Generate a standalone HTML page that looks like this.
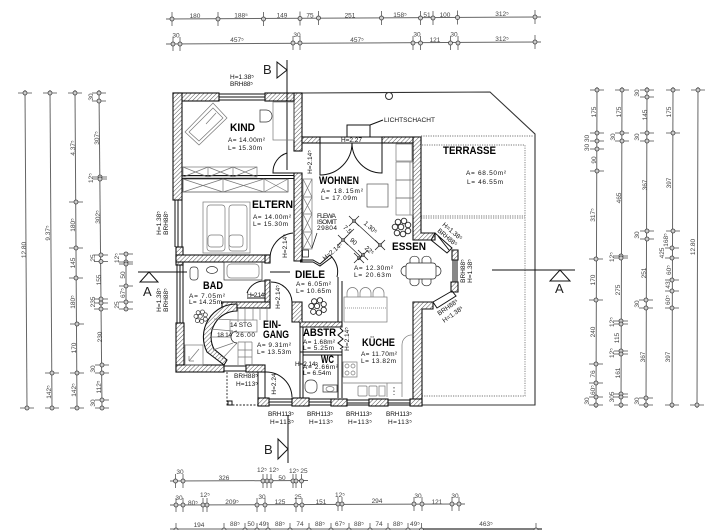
<!DOCTYPE html>
<html><head><meta charset="utf-8"><style>
html,body{margin:0;padding:0;background:#fff;width:720px;height:530px;overflow:hidden}
svg{display:block;filter:blur(.35px)}
text{font-family:"Liberation Sans",sans-serif}
.d{font-size:6.5px;fill:#444;text-anchor:middle}
.s{font-size:6.5px;fill:#111}
.n{font-size:11px;fill:#000;font-weight:bold}
.k{fill:none;stroke:#111;stroke-width:1}
.f{fill:none;stroke:#777;stroke-width:.7}
.w{fill:url(#h);stroke:#111;stroke-width:1.1}
.l{stroke:#666;stroke-width:1;fill:none}
</style></head><body>
<svg width="720" height="530" viewBox="0 0 720 530" xmlns="http://www.w3.org/2000/svg">
<defs>
<pattern id="h" width="3" height="3" patternUnits="userSpaceOnUse" patternTransform="rotate(45)"><rect width="3" height="3" fill="#fff"/><line x1="0" y1="0" x2="0" y2="3" stroke="#555" stroke-width="1"/></pattern>
<g id="v"><line x1="0" y1="-7" x2="0" y2="7" stroke="#555" stroke-width=".8"/><circle r="2" fill="#ccc" stroke="#444" stroke-width=".8"/></g>
<g id="o"><line x1="-7" y1="0" x2="7" y2="0" stroke="#555" stroke-width=".8"/><circle r="2" fill="#ccc" stroke="#444" stroke-width=".8"/></g>
<g id="x"><line x1="-5" y1="-5" x2="5" y2="5" stroke="#222" stroke-width=".8"/><line x1="-5" y1="5" x2="5" y2="-5" stroke="#222" stroke-width=".8"/><circle r="1.5" fill="#888" stroke="#222" stroke-width=".6"/></g>
<g id="p" fill="#fff" stroke="#222" stroke-width=".9"><circle cx="-4" cy="-6" r="2.8"/><circle cx="2" cy="-7" r="2.8"/><circle cx="6" cy="-3" r="2.8"/><circle cx="-7" cy="-1" r="2.8"/><circle cx="-1" cy="-1" r="2.8"/><circle cx="6" cy="3" r="2.8"/><circle cx="-5" cy="5" r="2.8"/><circle cx="1" cy="6" r="2.8"/></g>
</defs>
<rect width="720" height="530" fill="#fff"/>

<!-- TOP DIMENSIONS -->
<line class="l" x1="166" y1="19" x2="541" y2="17"/>
<line class="l" x1="166" y1="44" x2="541" y2="42"/>
<use href="#v" x="172" y="19"/><use href="#v" x="218" y="19"/><use href="#v" x="263.5" y="19"/><use href="#v" x="300" y="18.5"/><use href="#v" x="318.5" y="18"/><use href="#v" x="381.5" y="18"/><use href="#v" x="420.5" y="18"/><use href="#v" x="433" y="18"/><use href="#v" x="457.5" y="17.5"/><use href="#v" x="535" y="17"/>
<use href="#v" x="173" y="44"/><use href="#v" x="180" y="44"/><use href="#v" x="293" y="43"/><use href="#v" x="300" y="43"/><use href="#v" x="413" y="43"/><use href="#v" x="420.5" y="43"/><use href="#v" x="450.5" y="43"/><use href="#v" x="458" y="43"/><use href="#v" x="535" y="42"/>
<g class="d"><text x="195" y="18">180</text><text x="241" y="17.5">188⁵</text><text x="282" y="17.5">149</text><text x="310" y="17.5">75</text><text x="350" y="17.5">251</text><text x="400" y="17">158⁵</text><text x="427" y="17">51</text><text x="445" y="17">100</text><text x="502" y="16">312⁵</text>
<text x="176" y="37.5">30</text><text x="237" y="42">457⁵</text><text x="297" y="37">30</text><text x="357" y="42">457⁵</text><text x="417" y="36.5">30</text><text x="435" y="42">121</text><text x="454" y="36.5">30</text><text x="502" y="41">312⁵</text></g>

<!-- BOTTOM DIMENSIONS -->
<line class="l" x1="170" y1="481" x2="308" y2="480.5"/>
<line class="l" x1="170" y1="505" x2="465" y2="504"/>
<line class="l" x1="170" y1="529" x2="421" y2="529"/>
<line x1="421" y1="529" x2="542" y2="529" stroke="#555" stroke-width="1.6"/>
<use href="#v" x="175.5" y="481"/><use href="#v" x="183" y="481"/><use href="#v" x="263" y="481"/><use href="#v" x="267" y="481"/><use href="#v" x="271" y="481"/><use href="#v" x="293" y="481"/><use href="#v" x="296" y="481"/><use href="#v" x="301.5" y="481"/>
<use href="#v" x="176" y="505"/><use href="#v" x="183" y="505"/><use href="#v" x="203" y="505"/><use href="#v" x="207" y="505"/><use href="#v" x="257" y="505"/><use href="#v" x="265" y="505"/><use href="#v" x="296" y="505"/><use href="#v" x="302" y="505"/><use href="#v" x="338" y="504"/><use href="#v" x="342" y="504"/><use href="#v" x="414" y="504"/><use href="#v" x="422" y="504"/><use href="#v" x="452" y="504"/><use href="#v" x="459" y="504"/>
<use href="#v" x="176" y="530"/><use href="#v" x="224" y="530"/><use href="#v" x="245" y="530"/><use href="#v" x="257" y="530"/><use href="#v" x="268" y="530"/><use href="#v" x="290" y="530"/><use href="#v" x="309" y="530"/><use href="#v" x="331" y="530"/><use href="#v" x="349" y="530"/><use href="#v" x="370" y="530"/><use href="#v" x="388" y="530"/><use href="#v" x="408" y="530"/><use href="#v" x="421.5" y="530"/><use href="#v" x="536" y="530"/>
<g class="d"><text x="180" y="474">30</text><text x="224" y="480">326</text><text x="262" y="472">12⁵</text><text x="274" y="472">12⁵</text><text x="282" y="480">50</text><text x="294" y="473">12⁵</text><text x="304" y="473">25</text>
<text x="179" y="500">30</text><text x="193" y="505">80⁵</text><text x="205" y="497">12⁵</text><text x="232" y="504">209⁵</text><text x="262" y="499">30</text><text x="280" y="504">125</text><text x="298" y="499">25</text><text x="321" y="504">151</text><text x="340" y="497">12⁵</text><text x="377" y="503">294</text><text x="418" y="498">30</text><text x="437" y="504">121</text><text x="455" y="498">30</text>
<text x="199" y="527">194</text><text x="235" y="526">88⁵</text><text x="251" y="526">50</text><text x="264" y="526">49⁵</text><text x="280" y="526">88⁵</text><text x="300" y="526">74</text><text x="320" y="526">88⁵</text><text x="340" y="526">67⁵</text><text x="359" y="526">88⁵</text><text x="379" y="526">74</text><text x="398" y="526">88⁵</text><text x="415" y="526">49⁵</text><text x="486" y="526">463⁵</text></g>

<!-- LEFT DIMENSIONS -->
<line class="l" x1="25" y1="90" x2="27" y2="410"/><line class="l" x1="50" y1="90" x2="52" y2="410"/><line class="l" x1="75" y1="90" x2="77" y2="410"/><line class="l" x1="99" y1="90" x2="102" y2="410"/><line class="l" x1="126" y1="252" x2="126" y2="311"/>
<use href="#o" x="25" y="93"/><use href="#o" x="27" y="408"/>
<use href="#o" x="50" y="93"/><use href="#o" x="52" y="373"/><use href="#o" x="52" y="408"/>
<use href="#o" x="75" y="93"/><use href="#o" x="76" y="202"/><use href="#o" x="76" y="248"/><use href="#o" x="76" y="278"/><use href="#o" x="77" y="324"/><use href="#o" x="77" y="373"/><use href="#o" x="77" y="408"/>
<use href="#o" x="99" y="93"/><use href="#o" x="99" y="101"/><use href="#o" x="100" y="177"/><use href="#o" x="100" y="179"/><use href="#o" x="101" y="255"/><use href="#o" x="101" y="261.5"/><use href="#o" x="101" y="299"/><use href="#o" x="101" y="303"/><use href="#o" x="101" y="309"/><use href="#o" x="102" y="365"/><use href="#o" x="102" y="373"/><use href="#o" x="102" y="400"/><use href="#o" x="102" y="408"/>
<use href="#o" x="126" y="254"/><use href="#o" x="126" y="262"/><use href="#o" x="126" y="264"/><use href="#o" x="126" y="286"/><use href="#o" x="126" y="302"/><use href="#o" x="126" y="309"/>
<g class="d">
<text transform="translate(26,250) rotate(-90)">12.80</text><text transform="translate(50,233) rotate(-90)">9.37⁵</text><text transform="translate(51,392) rotate(-90)">142⁵</text>
<text transform="translate(75,148) rotate(-90)">4.37⁵</text><text transform="translate(75,225) rotate(-90)">180⁵</text><text transform="translate(75,263) rotate(-90)">145</text><text transform="translate(75,302) rotate(-90)">180⁵</text><text transform="translate(76,348) rotate(-90)">170</text><text transform="translate(76,390) rotate(-90)">142⁵</text>
<text transform="translate(93,97) rotate(-90)">30</text><text transform="translate(99,138) rotate(-90)">307⁵</text><text transform="translate(93,178) rotate(-90)">12⁵</text><text transform="translate(100,217) rotate(-90)">302⁵</text><text transform="translate(95,258) rotate(-90)">25</text><text transform="translate(101,280) rotate(-90)">155</text><text transform="translate(95,302) rotate(-90)">235</text><text transform="translate(102,337) rotate(-90)">230</text><text transform="translate(95,369) rotate(-90)">30</text><text transform="translate(101,387) rotate(-90)">112⁵</text><text transform="translate(95,403) rotate(-90)">30</text>
<text transform="translate(119,258) rotate(-90)">12⁵</text><text transform="translate(125,275) rotate(-90)">50</text><text transform="translate(125,293) rotate(-90)">67⁵</text><text transform="translate(119,305) rotate(-90)">25</text>
</g>

<!-- RIGHT DIMENSIONS -->
<line class="l" x1="597" y1="87" x2="596" y2="408"/><line class="l" x1="622" y1="87" x2="621" y2="408"/><line class="l" x1="647" y1="87" x2="646" y2="408"/><line class="l" x1="673" y1="87" x2="672" y2="408"/><line class="l" x1="698" y1="87" x2="697" y2="408"/>
<use href="#o" x="597" y="90"/><use href="#o" x="597" y="133"/><use href="#o" x="597" y="141"/><use href="#o" x="597" y="149"/><use href="#o" x="597" y="171"/><use href="#o" x="596" y="259"/><use href="#o" x="596" y="300"/><use href="#o" x="596" y="364"/><use href="#o" x="596" y="383"/><use href="#o" x="596" y="397"/><use href="#o" x="596" y="405"/>
<use href="#o" x="622" y="90"/><use href="#o" x="622" y="133"/><use href="#o" x="622" y="141"/><use href="#o" x="621" y="256"/><use href="#o" x="621" y="258"/><use href="#o" x="621" y="321"/><use href="#o" x="621" y="324"/><use href="#o" x="621" y="351"/><use href="#o" x="621" y="354"/><use href="#o" x="621" y="394"/><use href="#o" x="621" y="397"/><use href="#o" x="621" y="405"/>
<use href="#o" x="647" y="90"/><use href="#o" x="647" y="97"/><use href="#o" x="647" y="133"/><use href="#o" x="647" y="141"/><use href="#o" x="647" y="231"/><use href="#o" x="647" y="239"/><use href="#o" x="646" y="300"/><use href="#o" x="646" y="308"/><use href="#o" x="646" y="398"/><use href="#o" x="646" y="405"/>
<use href="#o" x="673" y="90"/><use href="#o" x="673" y="133"/><use href="#o" x="673" y="231"/><use href="#o" x="672" y="248"/><use href="#o" x="672" y="258"/><use href="#o" x="672" y="280"/><use href="#o" x="672" y="291"/><use href="#o" x="672" y="308"/><use href="#o" x="672" y="405"/>
<use href="#o" x="698" y="90"/><use href="#o" x="697" y="405"/>
<g class="d">
<text transform="translate(596,112) rotate(-90)">175</text><text transform="translate(589,143) rotate(-90)">30 30</text><text transform="translate(596,160) rotate(-90)">90</text><text transform="translate(595,215) rotate(-90)">317⁵</text><text transform="translate(595,280) rotate(-90)">170</text><text transform="translate(595,332) rotate(-90)">240</text><text transform="translate(595,374) rotate(-90)">76</text><text transform="translate(595,390) rotate(-90)">60⁵</text><text transform="translate(589,401) rotate(-90)">30</text>
<text transform="translate(621,112) rotate(-90)">175</text><text transform="translate(615,137) rotate(-90)">30</text><text transform="translate(621,198) rotate(-90)">465</text><text transform="translate(614,257) rotate(-90)">12⁵</text><text transform="translate(620,290) rotate(-90)">275</text><text transform="translate(614,322) rotate(-90)">12⁵</text><text transform="translate(619,338) rotate(-90)">115</text><text transform="translate(614,353) rotate(-90)">12⁵</text><text transform="translate(620,373) rotate(-90)">161</text><text transform="translate(614,397) rotate(-90)">305</text>
<text transform="translate(639,93) rotate(-90)">30</text><text transform="translate(647,115) rotate(-90)">145</text><text transform="translate(639,137) rotate(-90)">30</text><text transform="translate(647,185) rotate(-90)">367</text><text transform="translate(639,235) rotate(-90)">30</text><text transform="translate(646,273) rotate(-90)">251</text><text transform="translate(639,304) rotate(-90)">30</text><text transform="translate(645,357) rotate(-90)">367</text><text transform="translate(639,401) rotate(-90)">30</text>
<text transform="translate(671,112) rotate(-90)">175</text><text transform="translate(671,183) rotate(-90)">397</text><text transform="translate(668,240) rotate(-90)">168⁵</text><text transform="translate(664,253) rotate(-90)">425</text><text transform="translate(671,270) rotate(-90)">60⁵</text><text transform="translate(670,285) rotate(-90)">43</text><text transform="translate(670,300) rotate(-90)">60⁵</text><text transform="translate(670,357) rotate(-90)">397</text>
<text transform="translate(695,247) rotate(-90)">12.80</text>
</g>

<!-- TERRACE OUTLINE -->
<path d="M302 93 L490 92 L535 134 L535 405 L422 405" fill="none" stroke="#333" stroke-width="1.1"/>
<circle cx="389" cy="96" r="3.5" fill="#fff" stroke="#333"/>
<g fill="none" stroke="#777" stroke-width=".9" stroke-dasharray="1.2 1.2">
<path d="M421 136 L533 136"/><path d="M422 145 L525 145 L525 396 L422 396"/><path d="M421 216 L525 216"/><path d="M421 218 L525 218"/>
</g>

<!-- WALLS -->
<rect x="173" y="93" width="46" height="8" class="w"/>
<rect x="265" y="93" width="37" height="8" class="w"/>
<rect x="173" y="93" width="9" height="107" class="w"/>
<rect x="294" y="93" width="8" height="58" class="w"/>
<path d="M219 94 H265 M219 97 H265 M219 100 H265" class="k"/>
<path d="M175 200 V247 M178 200 V247 M182 200 V247" class="k"/>
<rect x="176" y="247" width="7" height="18" class="w"/>
<path d="M177 265 V323 M180 265 V323 M183 265 V323" class="k"/>
<rect x="176" y="323" width="8" height="49" class="w"/>
<rect x="176" y="365" width="48" height="7" class="w"/>
<rect x="246" y="365" width="19" height="7" class="w"/>
<path d="M224 366 H246 M224 371 H246" class="k"/>
<rect x="176" y="255" width="94" height="7" class="w"/>
<rect x="265" y="255" width="5" height="8" class="w"/>
<path d="M182 175.5 H302 M182 178.5 H302" stroke="#111" stroke-width="1.1"/>
<path d="M294 173 H302 V261 H294 Z" class="w"/>
<rect x="302" y="137" width="18" height="6" class="w"/>
<path d="M320 137 H382 M320 143 H382" class="k"/>
<path d="M347 137 V125 H370 V137 M370 125 L383 120" class="k"/>
<rect x="382" y="137" width="39" height="6" class="w"/>
<path d="M413 137 H421 V233 H435 V240 H413 Z" class="w"/>
<path d="M435 233 L452 248 L447 253 L431 240 Z M438 236 L449 250" class="k" fill="#fff"/>
<path d="M452 250 L458 250 L458 260 L452 260 Z" class="w"/>
<path d="M453 260 V282 M457 260 V282 M455 260 V282" class="k"/>
<path d="M451 282 H458 V292 H451 Z" class="w"/>
<path d="M452 291 L433 302 L437 308 L456 296 Z" class="k" fill="#fff"/>
<path d="M413 302 H433 V309 H422 V405 H413 Z" class="w"/>
<path d="M300 260 H313 L320 264 L330 255 M300 262 H313 L320 266 L332 257" class="k"/>
<path d="M330 255 Q340 265 337 277" class="k"/>
<path d="M338 277 V327 M342 281 V327" class="k"/>
<rect x="265" y="280" width="5" height="28" class="w"/>
<rect x="222" y="302" width="48" height="6" class="w"/>
<path d="M292 302 H302 V322 H342 V327 H300 V322 H292 Z" class="w"/>
<path d="M300 322 V398 M303 327 V398 M300 352 H342 M303 355 H342 M338 355 V398 M342 349 V398" class="k"/>
<path d="M340 328 l3 3 -5 4 5 4 -5 4 5 4 -3 2" class="k"/>
<rect x="258" y="398" width="11" height="8" class="w"/>
<path d="M269 399 H292 M269 402 H292 M269 405 H292" class="k"/>
<rect x="292" y="398" width="17" height="8" class="w"/>
<path d="M309 399 H331 M309 402 H331 M309 405 H331" class="k"/>
<rect x="331" y="399" width="16" height="7" class="w"/>
<path d="M347 400 H369 M347 403 H369 M347 405 H369" class="k"/>
<rect x="369" y="399" width="19" height="7" class="w"/>
<path d="M388 400 H410 M388 403 H410 M388 405 H410" class="k"/>
<rect x="410" y="399" width="12" height="7" class="w"/>
<path d="M258 372 V398 M265 372 V398" class="k"/>
<path d="M227 372 V405 H258" fill="none" stroke="#222" stroke-width=".9" stroke-dasharray="2 1.5"/>
<rect x="228" y="401" width="4" height="4" class="k"/>

<!-- DOORS -->
<path d="M287 153 A20 20 0 0 0 273 173 H294" class="k"/>
<path d="M320 143 V175 A32 32 0 0 0 352 143" class="k"/>
<path d="M382 143 V173 A30 30 0 0 1 352 143" class="k"/>
<path d="M293 233 A26 26 0 0 0 270 260" class="k"/>
<path d="M247 293 A18 18 0 0 1 265 281" class="k"/><path d="M247 298 H265" class="k"/>
<path d="M271 282 A21 21 0 0 1 292 302" class="k"/>
<path d="M265 372 A26 26 0 0 1 292 397" class="k"/>

<!-- SECTION MARKS -->
<path d="M287 60 V170" stroke="#111" stroke-width="1"/>
<path d="M277 62 V78 L287 70 Z" fill="#fff" stroke="#111"/>
<path d="M288 415 V463" stroke="#111" stroke-width="1"/>
<path d="M278 439 V459 L288 449 Z" fill="#fff" stroke="#111"/>
<path d="M138 272 H187" stroke="#111" stroke-width="1"/>
<path d="M270 272 H290" stroke="#111" stroke-width="1"/>
<path d="M140 282 H158 L149 272 Z" fill="#fff" stroke="#111"/>
<path d="M492 270 H575" stroke="#111" stroke-width="1"/>
<path d="M550 281 H570 L560 270 Z" fill="#fff" stroke="#111"/>
<text x="263" y="74" font-size="13" fill="#222">B</text><text x="264" y="454" font-size="13" fill="#222">B</text>
<text x="143" y="296" font-size="13" fill="#222">A</text><text x="555" y="293" font-size="13" fill="#222">A</text>

<!-- FURNITURE -->
<g class="f">
<path d="M185 132 L213 103 L227 118 L199 145 Z M189 132 L213 108 L223 118 L199 141 Z M206 124 L216 113"/>
<rect x="273" y="102" width="21" height="38"/>
<path d="M260 110 H266 A6 6 0 0 1 266 122 H260 Z" stroke="#333"/>
<rect x="183" y="167" width="74" height="10"/><path d="M208 167 V177 M233 167 V177 M183 167 L208 177 M183 177 L208 167 M208 167 L233 177 M208 177 L233 167 M233 167 L257 177 M233 177 L257 167"/>
<rect x="183" y="179" width="105" height="13" stroke="#444"/><path d="M223 179 V192 M264 179 V192 M183 179 L223 192 M183 192 L223 179 M223 179 L264 192 M223 192 L264 179 M264 179 L288 192 M264 192 L288 179"/>
<rect x="203" y="202" width="47" height="51"/><rect x="207" y="205" width="18" height="46" rx="3"/><rect x="229" y="205" width="18" height="46" rx="3"/><rect x="208" y="235" width="15" height="12" rx="3"/><rect x="229" y="235" width="14" height="12" rx="3"/>
<rect x="303" y="179" width="9" height="70"/><path d="M303 197 H312 M303 214 H312 M303 232 H312 M303 179 L312 197 M312 179 L303 197 M303 197 L312 214 M312 197 L303 214 M303 214 L312 232 M312 214 L303 232 M303 232 L312 249 M312 232 L303 249"/>
<rect x="302.5" y="250" width="6" height="7" stroke="#111"/>
<path d="M312 248 L317 233" stroke="#111"/>
<rect x="367" y="184" width="21" height="23" stroke="#555"/>
<rect x="396" y="144" width="16" height="17"/><rect x="396" y="162" width="17" height="18"/><rect x="396" y="180" width="17" height="18"/><rect x="396" y="198" width="17" height="17"/><path d="M410 162 V215"/>
<rect x="406" y="263" width="30" height="16" rx="3" stroke="#222"/>
<path d="M410 263 V259 A5 5 0 0 1 419 259 V263 M422 263 V259 A5 5 0 0 1 431 259 V263 M410 279 V283 A5 5 0 0 0 419 283 V279 M422 279 V283 A5 5 0 0 0 431 283 V279 M406 266 A5 5 0 0 0 406 276 M436 266 A5 5 0 0 1 436 276" stroke="#222"/>
<rect x="344" y="297" width="43" height="25"/>
<path d="M345 308 H386" stroke-dasharray="1 1"/>
<path d="M347 297 V293 A5.500 5.500 0 0 1 358 293 V297 M360 297 V293 A5.500 5.500 0 0 1 371 293 V297 M373 297 V293 A5.500 5.500 0 0 1 384 293 V297"/>
<rect x="343" y="362" width="14" height="15"/><circle cx="347" cy="366" r="2"/><circle cx="353" cy="366" r="2"/><circle cx="347" cy="373" r="2"/><circle cx="353" cy="373" r="2"/>
<path d="M343 383 H402 M387 383 V397 M402 383 V397 M402 383 V345 A10 10 0 0 1 413 335"/>
<rect x="358" y="386" width="9" height="10" rx="1"/><rect x="369" y="386" width="8" height="10" rx="1"/><rect x="379" y="386" width="6" height="10"/>
<path d="M394 387 V395" stroke-dasharray="1.5 2" stroke="#111"/>
<rect x="305" y="380" width="12" height="13" rx="5" stroke="#333"/>
<path d="M323 385 H337 V392 H323 Z" stroke="#333"/><ellipse cx="330" cy="389" rx="4" ry="2.500"/>
<rect x="190" y="267" width="8" height="13" rx="3" stroke="#333"/>
<ellipse cx="212" cy="270" rx="5.500" ry="3.500" stroke="#333"/>
<rect x="224" y="262" width="38" height="18" stroke="#333"/><rect x="227" y="264" width="32" height="14" rx="4"/>
<rect x="185" y="345" width="18" height="20"/><path d="M189 361 L199 349 M189 361 L194 361 M189 361 L189 356"/>
</g>
<use href="#p" x="402" y="228"/><use href="#p" transform="translate(318 307) scale(.95)"/><use href="#p" transform="translate(201 317) scale(.72)"/>

<!-- STAIRS -->
<path d="M237 304 A33 33 0 0 0 207 352 L224 365 L227 360 L214 349 A26 26 0 0 1 237 311 Z" class="w"/>
<g class="f" stroke="#333">
<path d="M237 320 L214 319 M233 331 L210 329 M231 337 L211 337 M233 343 L213 350 M237 343 L222 359 M238 322 V308 M245 322 V308 M253 320 V308 M260 320 V308 M267 320 V308"/>
<path d="M237 331 A6 6 0 0 0 237 343" stroke="#111"/>
<rect x="230" y="320" width="27" height="12"/>
<path d="M238 342 L238 365 M245 342 V365 M252 342 V365 M238 342 H252 M238 350 H252 M238 357 H252" />
</g>

<!-- DIAGONAL DIMENSIONS -->
<g stroke="#222" stroke-width=".7" fill="none"><path d="M354 221 L380 245 M343 240 L360 256 M343 240 L354 229"/></g>
<use href="#x" x="354" y="221"/><use href="#x" x="380" y="245"/><use href="#x" x="343" y="240"/><use href="#x" x="359" y="258"/><use href="#x" x="363" y="255"/>
<g class="d" fill="#111" style="fill:#111"><text transform="translate(369,229) rotate(42)">1.30⁵</text><text transform="translate(346,231) rotate(42)">7.5</text><text transform="translate(352,243) rotate(42)">90</text><text transform="translate(368,252) rotate(42)">22⁵</text></g>

<!-- ROOM NAMES -->
<g class="n">
<text x="230" y="131" textLength="25" lengthAdjust="spacingAndGlyphs">KIND</text>
<text x="252" y="208" textLength="41" lengthAdjust="spacingAndGlyphs">ELTERN</text>
<text x="319" y="184" textLength="40" lengthAdjust="spacingAndGlyphs">WOHNEN</text>
<text x="443" y="154" textLength="53" lengthAdjust="spacingAndGlyphs">TERRASSE</text>
<text x="392" y="250" textLength="34" lengthAdjust="spacingAndGlyphs">ESSEN</text>
<text x="295" y="278" textLength="30" lengthAdjust="spacingAndGlyphs">DIELE</text>
<text x="203" y="289" textLength="20" lengthAdjust="spacingAndGlyphs">BAD</text>
<text x="263" y="328" textLength="18" lengthAdjust="spacingAndGlyphs">EIN-</text>
<text x="263" y="338" textLength="26" lengthAdjust="spacingAndGlyphs">GANG</text>
<text x="303" y="336" textLength="33" lengthAdjust="spacingAndGlyphs">ABSTR</text>
<text x="321" y="363" textLength="13" lengthAdjust="spacingAndGlyphs">WC</text>
<text x="362" y="346" textLength="33" lengthAdjust="spacingAndGlyphs">KÜCHE</text>
</g>

<!-- AREA TEXT -->
<g class="s">
<text x="228" y="142" textLength="37">A= 14.00m²</text><text x="228" y="150" textLength="34">L= 15.30m</text>
<text x="253" y="219" textLength="38">A= 14.00m²</text><text x="253" y="226" textLength="35">L= 15.30m</text>
<text x="321" y="193" textLength="42">A= 18.15m²</text><text x="321" y="200" textLength="36">L= 17.09m</text>
<text x="466" y="175" textLength="40">A= 68.50m²</text><text x="467" y="184" textLength="36">L= 46.55m</text>
<text x="354" y="270" textLength="39">A= 12.30m²</text><text x="354" y="277" textLength="37">L= 20.63m</text>
<text x="296" y="286" textLength="35">A= 6.05m²</text><text x="296" y="293" textLength="35">L= 10.65m</text>
<text x="189" y="298" textLength="36">A= 7.05m²</text><text x="189" y="304" textLength="33">L= 14.25m</text>
<text x="257" y="347" textLength="34">A= 9.31m²</text><text x="257" y="354" textLength="34">L= 13.53m</text>
<text x="303" y="344" textLength="32">A= 1.68m²</text><text x="303" y="350" textLength="31">L= 5.25m</text>
<text x="303" y="369" textLength="35">A= 2.66m²</text><text x="303" y="375" textLength="28">L= 6.54m</text>
<text x="361" y="356" textLength="36">A= 11.70m²</text><text x="361" y="363" textLength="35">L= 13.82m</text>
<text x="230" y="79" textLength="24">H=1.38⁵</text><text x="230" y="86" textLength="23">BRH88⁵</text>
<text x="384" y="122" textLength="51">LICHTSCHACHT</text>
<text x="341" y="142" textLength="21">H=2.27</text>
<text x="317" y="218" textLength="19">FLEWA</text><text x="317" y="224" textLength="20">ISOMIT</text><text x="317" y="230" textLength="20">29804</text>
<text x="247" y="297" textLength="19">H=2.14⁵</text><text x="295" y="366" textLength="23">H=2.14⁵</text>
<text x="230" y="327" textLength="22">14 STG</text><text x="217" y="337" textLength="15">18 14</text><text x="236" y="337" textLength="19">26.00</text>
<text x="234" y="378" textLength="24">BRH88⁵</text><text x="236" y="386" textLength="22">H=113⁵</text>
<text x="268" y="416" textLength="26">BRH113⁵</text><text x="270" y="424" textLength="24">H=113⁵</text>
<text x="307" y="416" textLength="26">BRH113⁵</text><text x="309" y="424" textLength="24">H=113⁵</text>
<text x="346" y="416" textLength="26">BRH113⁵</text><text x="348" y="424" textLength="24">H=113⁵</text>
<text x="386" y="416" textLength="26">BRH113⁵</text><text x="388" y="424" textLength="24">H=113⁵</text>
</g>
<g class="d" style="fill:#111">
<text transform="translate(161,223) rotate(-90)">H=1.38⁵</text><text transform="translate(168,223) rotate(-90)">BRH88⁵</text>
<text transform="translate(161,300) rotate(-90)">H=1.38⁵</text><text transform="translate(168,300) rotate(-90)">BRH88⁵</text>
<text transform="translate(312,162) rotate(-90)">H=2.14⁵</text>
<text transform="translate(287,246) rotate(-90)">H=2.14⁵</text>
<text transform="translate(280,297) rotate(-90)">H=2.14⁵</text>
<text transform="translate(276,384) rotate(-90)">H=2.24</text>
<text transform="translate(349,339) rotate(-90)">H=2.14⁵</text>
<text transform="translate(334,253) rotate(-40)">H=2.14⁵</text>
<text transform="translate(451,233) rotate(40)">H=1.38⁵</text><text transform="translate(446,239) rotate(40)">BRH88⁵</text>
<text transform="translate(465,271) rotate(-90)">BRH88⁵</text><text transform="translate(472,271) rotate(-90)">H=1.38⁵</text>
<text transform="translate(449,309) rotate(-35)">BRH88⁵</text><text transform="translate(454,316) rotate(-35)">H=1.38⁵</text>
</g>
</svg>
</body></html>
